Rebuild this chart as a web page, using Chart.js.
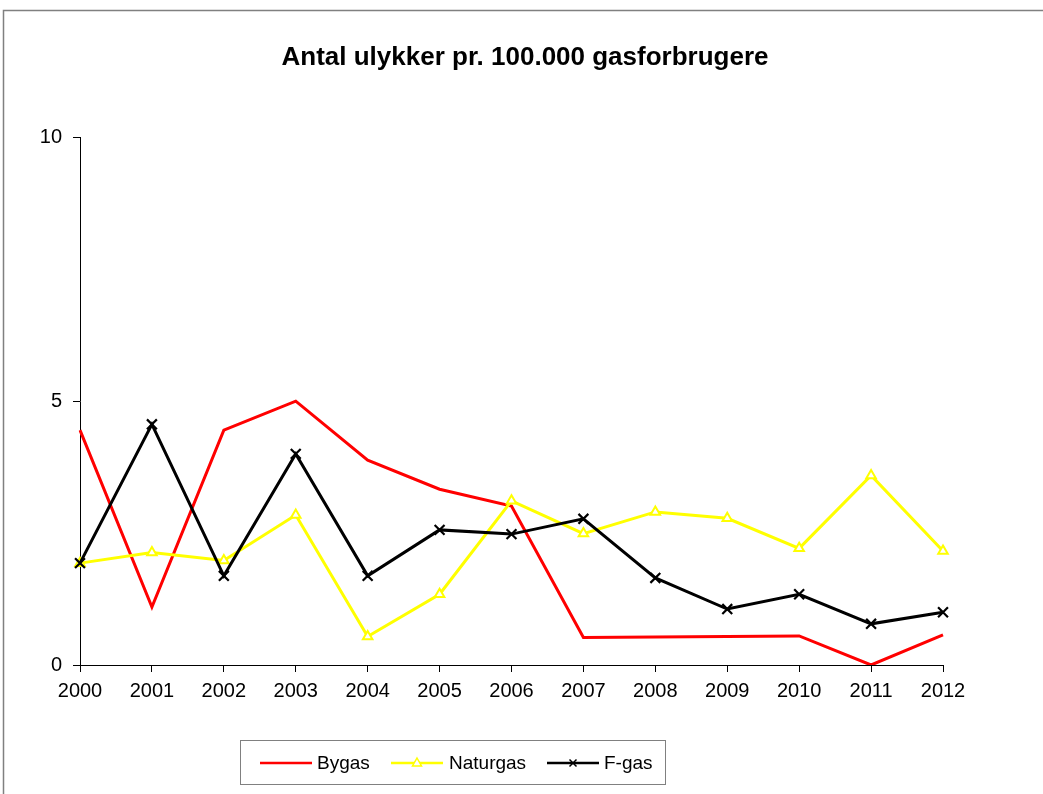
<!DOCTYPE html>
<html>
<head>
<meta charset="utf-8">
<script src="https://cdn.jsdelivr.net/npm/chart.js@4"></script>
<style>
  html, body { margin: 0; padding: 0; background: #fff; }
  #wrap { position: relative; width: 1043px; height: 794px; }
</style>
</head>
<body>
<div id="wrap"><canvas id="c" width="1043" height="794"></canvas></div>
<script>
const years = ['2000','2001','2002','2003','2004','2005','2006','2007','2008','2009','2010','2011','2012'];
const bygas    = [4.45, 1.10, 4.45, 5.00, 3.88, 3.33, 3.01, 0.52, 0.53, 0.54, 0.55, 0.00, 0.57];
const naturgas = [1.93, 2.13, 1.98, 2.84, 0.54, 1.34, 3.11, 2.49, 2.90, 2.78, 2.21, 3.59, 2.16];
const fgas     = [1.93, 4.56, 1.69, 4.00, 1.69, 2.56, 2.48, 2.77, 1.65, 1.06, 1.34, 0.78, 1.00];
const yTicks   = [0, 5, 10];
const titleText = 'Antal ulykker pr. 100.000 gasforbrugere';

const FONT = "'Liberation Sans', Arial, sans-serif";

const frameAndLegend = {
  id: 'frameAndLegend',
  beforeDraw(chart) {
    const ctx = chart.ctx;
    ctx.save();
    ctx.fillStyle = '#fff';
    ctx.fillRect(0, 0, chart.width, chart.height);
    ctx.strokeStyle = '#808080';
    ctx.lineWidth = 1.5;
    ctx.strokeRect(3.5, 10.5, 1100, 900);
    ctx.restore();
  },
  afterDraw(chart) {
    const ctx = chart.ctx;
    ctx.save();
    ctx.strokeStyle = '#808080';
    ctx.lineWidth = 1;
    ctx.strokeRect(240.5, 740.5, 425, 44);
    const items = [
      { x0: 260, x1: 312, tx: 317, ds: chart.data.datasets[0] },
      { x0: 391, x1: 443, tx: 449, ds: chart.data.datasets[1] },
      { x0: 547, x1: 599, tx: 604, ds: chart.data.datasets[2] }
    ];
    const cy = 763;
    ctx.font = '19px ' + FONT;
    ctx.textBaseline = 'middle';
    ctx.textAlign = 'left';
    items.forEach(it => {
      ctx.strokeStyle = it.ds.borderColor;
      ctx.lineWidth = 2.5;
      ctx.beginPath();
      ctx.moveTo(it.x0, cy);
      ctx.lineTo(it.x1, cy);
      ctx.stroke();
      if (it.ds.pointRadius > 0) {
        const mx = (it.x0 + it.x1) / 2;
        ctx.fillStyle = '#fff';
        ctx.strokeStyle = it.ds.borderColor;
        ctx.lineWidth = 1.5;
        ctx.beginPath();
        if (it.ds.pointStyle === 'triangle') {
          ctx.moveTo(mx, cy - 5); ctx.lineTo(mx + 4.5, cy + 3); ctx.lineTo(mx - 4.5, cy + 3); ctx.closePath();
          ctx.fill(); ctx.stroke();
        } else {
          ctx.moveTo(mx - 3.5, cy - 3.5); ctx.lineTo(mx + 3.5, cy + 3.5);
          ctx.moveTo(mx + 3.5, cy - 3.5); ctx.lineTo(mx - 3.5, cy + 3.5);
          ctx.stroke();
        }
      }
      ctx.fillStyle = '#000';
      ctx.fillText(it.ds.label, it.tx, cy + 1);
    });
    ctx.restore();
  }
};

new Chart(document.getElementById('c'), {
  type: 'line',
  data: {
    labels: years,
    datasets: [
      { label: 'Bygas', data: bygas, borderColor: '#ff0000', backgroundColor: '#ff0000',
        borderWidth: 3, pointRadius: 0, pointStyle: 'circle', tension: 0, order: 3 },
      { label: 'Naturgas', data: naturgas, borderColor: '#ffff00', backgroundColor: '#ffffff',
        borderWidth: 3, pointRadius: 5.5, pointBorderWidth: 2, pointStyle: 'triangle', tension: 0, order: 2 },
      { label: 'F-gas', data: fgas, borderColor: '#000000', backgroundColor: '#000000',
        borderWidth: 3, pointRadius: 7, pointBorderWidth: 2.2, pointStyle: 'crossRot', tension: 0, order: 1 }
    ]
  },
  options: {
    responsive: false,
    animation: false,
    devicePixelRatio: 1,
    layout: { padding: { left: 7, right: 0, top: 0, bottom: 69 } },
    plugins: {
      legend: { display: false },
      tooltip: { enabled: false },
      title: {
        display: true,
        text: titleText,
        color: '#000',
        font: { family: FONT, size: 26, weight: 'bold', lineHeight: 1.2 },
        padding: { top: 42, bottom: 64 }
      }
    },
    scales: {
      x: {
        type: 'category',
        offset: false,
        grid: { display: true, drawOnChartArea: false, drawTicks: true, tickLength: 7, color: '#000', lineWidth: 1 },
        border: { display: true, color: '#000', width: 1 },
        ticks: { color: '#000', font: { family: FONT, size: 20 }, padding: 7, maxRotation: 0, autoSkip: false },
        afterFit(s) { s.height = 60; }
      },
      y: {
        min: 0, max: 10,
        afterBuildTicks(s) { s.ticks = yTicks.map(v => ({ value: v })); },
        grid: { display: true, drawOnChartArea: false, drawTicks: true, tickLength: 7, color: '#000', lineWidth: 1 },
        border: { display: true, color: '#000', width: 1 },
        ticks: { color: '#000', font: { family: FONT, size: 20 }, padding: 11 },
        afterFit(s) { s.width = 73; }
      },
      yRight: {
        position: 'right',
        display: true,
        min: 0, max: 10,
        grid: { display: false, drawTicks: false },
        border: { display: false },
        ticks: { display: false },
        afterFit(s) { s.width = 100; }
      }
    }
  },
  plugins: [frameAndLegend]
});
</script>
</body>
</html>
